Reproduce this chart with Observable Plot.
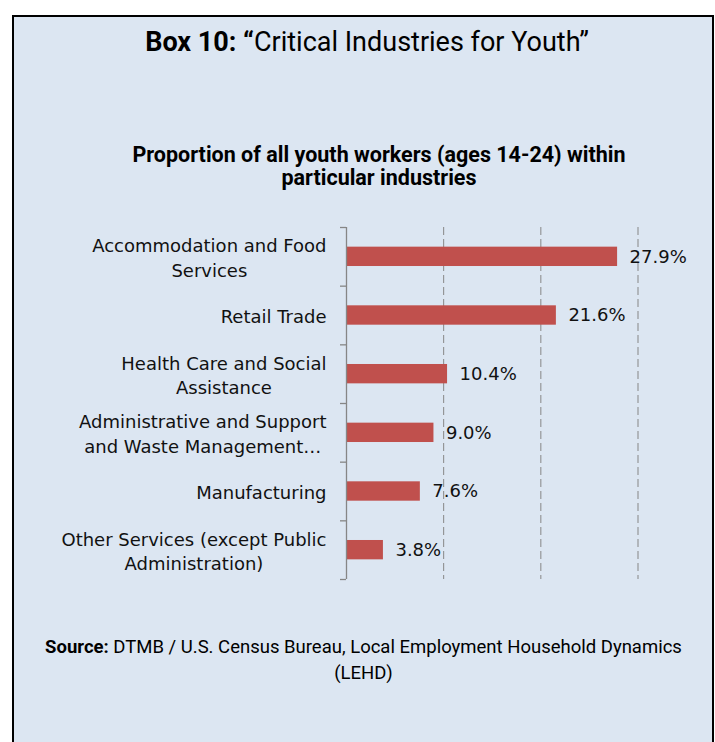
<!DOCTYPE html>
<html>
<head>
<meta charset="utf-8">
<script src="https://cdn.jsdelivr.net/npm/d3@7"></script>
<script src="https://cdn.jsdelivr.net/npm/@observablehq/plot@0.6"></script>
<style>
html, body { margin: 0; padding: 0; background: #fff; width: 715px; height: 742px; overflow: hidden; }
#box { position: absolute; left: 12px; top: 15px; width: 702px; height: 800px; border: 2px solid #000; background: #dce6f2; box-sizing: border-box; }
.t { position: absolute; text-align: center; color: #000; white-space: nowrap; }
#title { left: 0; width: 734px; top: 26px; line-height: 32px; font-size: 27px; font-family: Roboto, sans-serif; }
#sub { left: 0; width: 758px; top: 143px; line-height: 23px; font-size: 21.5px; font-weight: bold; font-family: Roboto, sans-serif; }
#source { left: 0; width: 727px; top: 634px; line-height: 26px; font-size: 18.5px; font-family: Roboto, sans-serif; }
#chart { position: absolute; left: 0; top: 200px; }
</style>
</head>
<body>
<div id="box"></div>
<div class="t" id="title"><b>Box 10: “</b>Critical Industries for Youth”</div>
<div class="t" id="sub">Proportion of all youth workers (ages 14-24) within<br>particular industries</div>
<div class="t" id="source"><b>Source:</b> DTMB / U.S. Census Bureau, Local Employment Household Dynamics<br>(LEHD)</div>
<div id="chart"></div>
<script>
const industries = [
  "Accommodation and Food Services",
  "Retail Trade",
  "Health Care and Social Assistance",
  "Administrative and Support and Waste Management and Remediation Services",
  "Manufacturing",
  "Other Services (except Public Administration)"
];
const tickLabels = [
  "Accommodation and Food\nServices",
  "Retail Trade",
  "Health Care and Social\nAssistance",
  "Administrative and Support\nand Waste Management…",
  "Manufacturing",
  "Other Services (except Public\nAdministration)"
];
const shares = [27.9, 21.6, 10.4, 9.0, 7.6, 3.8];
const gridValues = [10, 20, 30];

const data = industries.map((name, i) => ({name, label: tickLabels[i], value: shares[i], i}));
const boundaries = d3.range(0, industries.length + 1);

const labelFont = "DejaVu Sans";
const labelSize = 18;
const ctx = document.createElement("canvas").getContext("2d");
ctx.font = `${labelSize}px "${labelFont}"`;
const gap = 20;

const labelMarks = data.map(d => {
  const w = d3.max(d.label.split("\n"), s => ctx.measureText(s).width);
  return Plot.text([d], {
    x: 0, y: dd => dd.i + 0.5, text: "label",
    textAnchor: "middle", dx: -(gap + w / 2),
    lineHeight: 1.35, fontSize: labelSize, fontFamily: labelFont, fill: "#111"
  });
});

const chart = Plot.plot({
  width: 715,
  height: 400,
  marginLeft: 346,
  marginRight: 77.5,
  marginTop: 27,
  marginBottom: 21,
  style: { background: "transparent", overflow: "visible" },
  x: { domain: [0, 30], axis: null },
  y: { domain: [0, industries.length], reverse: true },
  marks: [
    Plot.ruleX(gridValues, { y1: 0, y2: industries.length, stroke: "#868686", strokeWidth: 1, strokeDasharray: "8,4" }),
    Plot.rectX(data, { x: "value", y1: d => d.i + 0.335, y2: d => d.i + 0.665, fill: "#c0504d" }),
    Plot.ruleX([0], { y1: 0, y2: industries.length, stroke: "#868686", strokeWidth: 1.3 }),
    Plot.axisY({ ticks: boundaries, tickSize: 6, tickFormat: () => "", stroke: "#868686", strokeWidth: 1.3 }),
    ...labelMarks,
    Plot.text(data, {
      x: "value", y: d => d.i + 0.5, text: d => d.value.toFixed(1) + "%",
      textAnchor: "start", dx: 12, fontSize: 18, fontFamily: labelFont, fill: "#111"
    })
  ]
});
document.getElementById("chart").appendChild(chart);
</script>
</body>
</html>
